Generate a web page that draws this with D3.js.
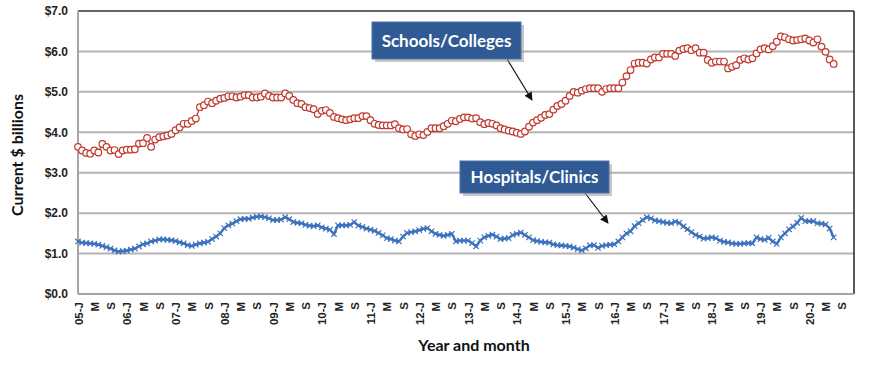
<!DOCTYPE html>
<html><head><meta charset="utf-8">
<script src="https://cdn.jsdelivr.net/npm/d3@7"></script>
<style>
html,body{margin:0;padding:0;background:#fff;}
svg{display:block;font-family:Lato,"Open Sans",sans-serif;}
</style></head>
<body><svg id="c" width="870" height="365"></svg>
<script>
// Monthly, Jan 2005 .. Jul 2020 (Current $ billions)
const schools = [
 3.64,3.55,3.49,3.47,3.55,3.50,3.71,3.64,3.55,3.56,3.46,3.55,
 3.57,3.57,3.58,3.72,3.73,3.86,3.64,3.82,3.88,3.90,3.92,3.96,
 4.05,4.12,4.21,4.21,4.28,4.34,4.62,4.67,4.76,4.72,4.78,4.83,
 4.85,4.89,4.89,4.86,4.88,4.92,4.92,4.86,4.86,4.88,4.96,4.90,
 4.86,4.86,4.86,4.96,4.90,4.80,4.72,4.70,4.62,4.60,4.57,4.45,
 4.53,4.55,4.48,4.38,4.35,4.32,4.30,4.32,4.35,4.35,4.40,4.40,
 4.30,4.21,4.18,4.17,4.17,4.17,4.20,4.10,4.07,4.08,3.95,3.91,
 3.95,3.93,4.01,4.10,4.10,4.10,4.15,4.21,4.29,4.27,4.33,4.37,
 4.37,4.34,4.35,4.25,4.20,4.23,4.21,4.17,4.10,4.07,4.04,4.02,
 3.99,3.96,4.02,4.14,4.24,4.30,4.36,4.43,4.45,4.56,4.65,4.70,
 4.78,4.90,5.00,4.98,5.03,5.07,5.09,5.09,5.09,5.00,5.07,5.09,
 5.09,5.09,5.23,5.39,5.54,5.70,5.72,5.72,5.70,5.80,5.85,5.85,
 5.94,5.94,5.94,5.89,6.02,6.06,6.08,6.03,6.08,5.97,5.97,5.79,
 5.72,5.75,5.75,5.75,5.58,5.62,5.66,5.79,5.83,5.80,5.83,5.95,
 6.05,6.08,6.05,6.13,6.24,6.37,6.35,6.30,6.27,6.28,6.30,6.32,
 6.27,6.22,6.30,6.12,5.99,5.80,5.69
];
const hospitals = [
 1.30,1.27,1.26,1.25,1.24,1.22,1.19,1.16,1.12,1.08,1.05,1.06,
 1.07,1.10,1.12,1.18,1.23,1.25,1.30,1.32,1.35,1.35,1.34,1.33,
 1.31,1.28,1.25,1.21,1.19,1.22,1.25,1.27,1.29,1.36,1.42,1.50,
 1.63,1.70,1.74,1.80,1.85,1.86,1.86,1.89,1.91,1.92,1.90,1.87,
 1.83,1.83,1.84,1.90,1.85,1.78,1.76,1.75,1.71,1.69,1.68,1.70,
 1.65,1.62,1.59,1.48,1.70,1.70,1.70,1.71,1.78,1.69,1.66,1.62,
 1.59,1.56,1.51,1.45,1.38,1.36,1.32,1.30,1.42,1.51,1.53,1.55,
 1.58,1.61,1.63,1.55,1.49,1.46,1.44,1.46,1.49,1.30,1.32,1.32,
 1.32,1.26,1.18,1.32,1.40,1.44,1.47,1.42,1.36,1.37,1.38,1.46,
 1.49,1.52,1.46,1.40,1.33,1.31,1.29,1.28,1.27,1.23,1.21,1.20,
 1.19,1.18,1.15,1.11,1.08,1.13,1.20,1.21,1.14,1.19,1.21,1.22,
 1.23,1.30,1.40,1.50,1.55,1.68,1.75,1.83,1.90,1.87,1.82,1.80,
 1.78,1.76,1.75,1.79,1.76,1.67,1.60,1.53,1.46,1.42,1.37,1.38,
 1.40,1.38,1.32,1.29,1.28,1.25,1.24,1.24,1.25,1.26,1.25,1.40,
 1.36,1.34,1.39,1.30,1.24,1.40,1.50,1.60,1.67,1.76,1.88,1.80,
 1.80,1.80,1.75,1.74,1.72,1.62,1.40
];
const years = ["05","06","07","08","09","10","11","12","13","14","15","16","17","18","19","20"];
const monthLetters = ["J","F","M","A","M","J","J","A","S","O","N","D"];
const tickLabels = [
 "05-J","M","S","06-J","M","S","07-J","M","S","08-J","M","S",
 "09-J","M","S","10-J","M","S","11-J","M","S","12-J","M","S",
 "13-J","M","S","14-J","M","S","15-J","M","S","16-J","M","S",
 "17-J","M","S","18-J","M","S","19-J","M","S","20-J","M","S"
];
const yTicks = [0,1,2,3,4,5,6,7];
const annotations = [
 {text:"Schools/Colleges"},
 {text:"Hospitals/Clinics"}
];

// categories: every month Jan 2005 .. Dec 2020
const categories = [];
years.forEach(y => monthLetters.forEach((m,i) => categories.push(y + "-" + (i+1))));

const L = 78, R = 854, T = 11, B = 294;
const svg = d3.select("#c");
const x = d3.scalePoint().domain(categories).range([L, R]).padding(0);
const y = d3.scaleLinear().domain([0, 7]).range([B, T]);

// gridlines
svg.append("g").selectAll("line").data(yTicks.filter(d => d > 0 && d < 7)).join("line")
  .attr("x1", L).attr("x2", R).attr("y1", d => y(d)).attr("y2", d => y(d))
  .attr("stroke", "#b4b4b4").attr("stroke-width", 2);

// plot border (top/right dark)
svg.append("line").attr("x1", L).attr("x2", R).attr("y1", T).attr("y2", T).attr("stroke", "#333").attr("stroke-width", 1.5);
svg.append("line").attr("x1", R).attr("x2", R).attr("y1", T).attr("y2", B).attr("stroke", "#222").attr("stroke-width", 1.5);

// Y axis
const yAxis = svg.append("g").attr("transform", `translate(${L},0)`)
  .call(d3.axisLeft(y).tickValues(yTicks).tickSize(0).tickPadding(10).tickFormat(d => "$" + d.toFixed(1)));
yAxis.select(".domain").remove();
yAxis.selectAll("text").attr("font-size", 12).attr("font-weight", 700).attr("fill", "#222");
svg.append("line").attr("x1", L).attr("x2", L).attr("y1", T).attr("y2", B).attr("stroke", "#a6a6a6").attr("stroke-width", 2);

// X axis
const tickCats = categories.filter((c, i) => i % 4 === 0 && i <= 188);
const xAxis = svg.append("g").attr("transform", `translate(0,${B})`)
  .call(d3.axisBottom(x).tickValues(tickCats).tickSize(0).tickFormat((d, i) => tickLabels[i]));
xAxis.select(".domain").remove();
xAxis.selectAll("text")
  .attr("transform", "rotate(-90)")
  .attr("text-anchor", "end")
  .attr("x", -8).attr("y", 0).attr("dy", "0.35em")
  .attr("font-size", 11.5).attr("font-weight", 700).attr("fill", "#222");
svg.append("line").attr("x1", L).attr("x2", R).attr("y1", B).attr("y2", B).attr("stroke", "#a6a6a6").attr("stroke-width", 2);

// axis titles
svg.append("text").attr("x", 474).attr("y", 351).attr("text-anchor", "middle")
  .attr("font-size", 16).attr("font-weight", 700).attr("fill", "#111").text("Year and month");
svg.append("text").attr("transform", "translate(23,155) rotate(-90)").attr("text-anchor", "middle")
  .attr("font-size", 16).attr("font-weight", 700).attr("fill", "#111").text("Current $ billions");

// series
const line = d3.line().x((d, i) => x(categories[i])).y(d => y(d));
const blue = "#3d73bd", red = "#c0392e";

svg.append("path").datum(hospitals).attr("d", line).attr("fill", "none")
  .attr("stroke", blue).attr("stroke-width", 2.4);
const xs = 2.7;
svg.append("g").selectAll("path").data(hospitals).join("path")
  .attr("d", (d, i) => {
    const cx = x(categories[i]), cy = y(d);
    return `M${cx-xs},${cy-xs}L${cx+xs},${cy+xs}M${cx-xs},${cy+xs}L${cx+xs},${cy-xs}`;
  })
  .attr("stroke", blue).attr("stroke-width", 1.2).attr("fill", "none");

svg.append("path").datum(schools).attr("d", line).attr("fill", "none")
  .attr("stroke", red).attr("stroke-width", 1.2);
svg.append("g").selectAll("circle").data(schools).join("circle")
  .attr("cx", (d, i) => x(categories[i])).attr("cy", d => y(d)).attr("r", 3.3)
  .attr("fill", "#fff").attr("stroke", red).attr("stroke-width", 1.2);

// annotations
const defs = svg.append("defs");
defs.append("marker").attr("id", "ah").attr("viewBox", "0 0 10 10").attr("refX", 9).attr("refY", 5)
  .attr("markerWidth", 7).attr("markerHeight", 7).attr("orient", "auto-start-reverse")
  .append("path").attr("d", "M0,0L10,5L0,10z").attr("fill", "#111");

function callout(a, bx, by, bw, bh, ax1, ay1, ax2, ay2) {
  svg.append("line").attr("x1", ax1).attr("y1", ay1).attr("x2", ax2).attr("y2", ay2)
    .attr("stroke", "#111").attr("stroke-width", 1.2).attr("marker-end", "url(#ah)");
  svg.append("rect").attr("x", bx + 3).attr("y", by + 3).attr("width", bw).attr("height", bh)
    .attr("fill", "#9a9a9a").attr("opacity", 0.55);
  svg.append("rect").attr("x", bx).attr("y", by).attr("width", bw).attr("height", bh)
    .attr("fill", "#2f5a94").attr("stroke", "#4a72a8").attr("stroke-width", 1);
  svg.append("text").attr("x", bx + bw / 2).attr("y", by + bh / 2).attr("dy", "0.36em")
    .attr("text-anchor", "middle").attr("font-size", 17).attr("font-weight", 700)
    .attr("fill", "#fff").text(a.text);
}
callout(annotations[0], 372, 22, 149, 37, 507, 59, 532, 100);
callout(annotations[1], 460, 161, 149, 32, 585, 193, 608, 223);
</script></body></html>
